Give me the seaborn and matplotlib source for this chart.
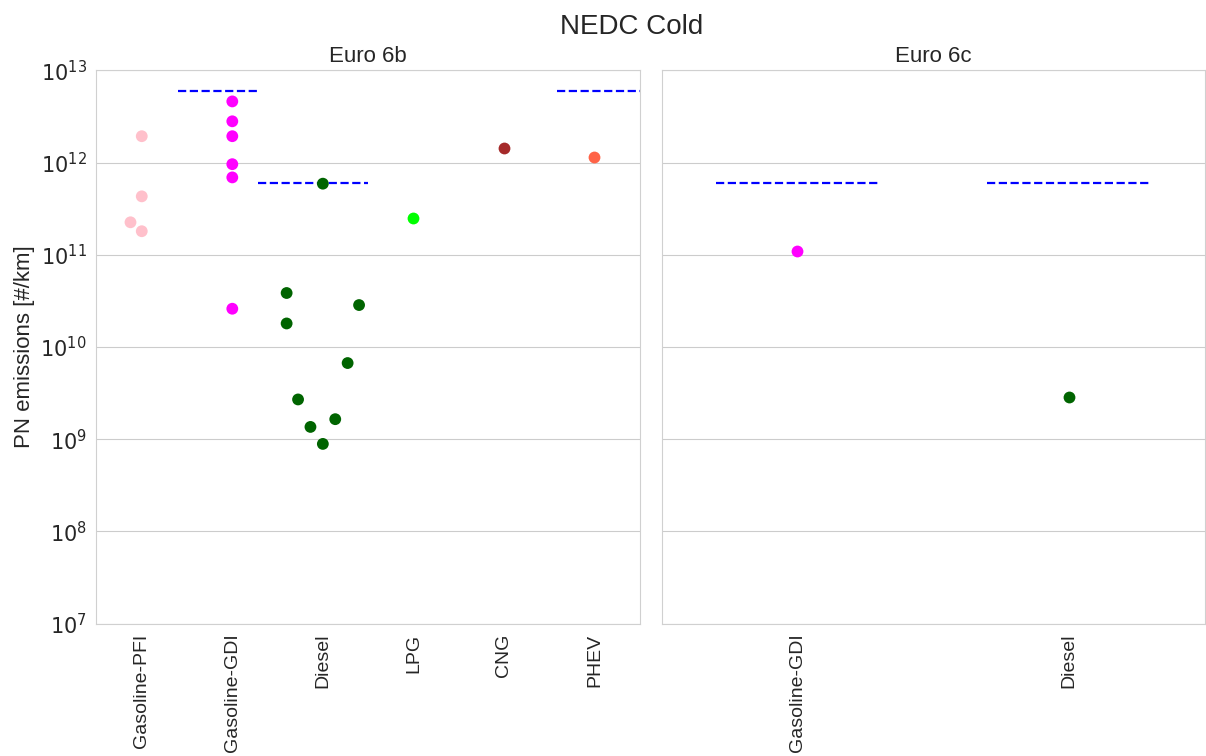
import numpy as np
import pandas as pd
import matplotlib
matplotlib.use("Agg")
import matplotlib.pyplot as plt
import seaborn as sns

# ---------------------------
# Data
# ---------------------------
fuels_6b = ["Gasoline-PFI", "Gasoline-GDI", "Diesel", "LPG", "CNG", "PHEV"]
fuels_6c = ["Gasoline-GDI", "Diesel"]

pfi_6b = [1.93e12, 4.3e11, 2.25e11, 1.8e11]
gdi_6b = [4.6e12, 2.8e12, 1.93e12, 9.6e11, 6.9e11, 2.6e10]
diesel_6b = [5.9e11, 3.85e10, 2.85e10, 1.8e10, 6.7e9, 2.7e9, 1.65e9, 1.36e9, 8.9e8]
lpg_6b = [2.5e11]
cng_6b = [1.43e12]
phev_6b = [1.14e12]

gdi_6c = [1.1e11]
diesel_6c = [2.87e9]

# PN limits [#/km]
limit_gasoline = 6e12
limit_diesel = 6e11

fuel_colors = {
    "Gasoline-PFI": "pink",
    "Gasoline-GDI": "magenta",
    "Diesel": "darkgreen",
    "LPG": "lime",
    "CNG": "brown",
    "PHEV": "tomato",
}

# ---------------------------
# Build data frames
# ---------------------------
df_6b = pd.DataFrame({
    "fuel": (["Gasoline-PFI"] * len(pfi_6b) + ["Gasoline-GDI"] * len(gdi_6b)
             + ["Diesel"] * len(diesel_6b) + ["LPG"] * len(lpg_6b)
             + ["CNG"] * len(cng_6b) + ["PHEV"] * len(phev_6b)),
    "pn": pfi_6b + gdi_6b + diesel_6b + lpg_6b + cng_6b + phev_6b,
})
df_6c = pd.DataFrame({
    "fuel": ["Gasoline-GDI"] * len(gdi_6c) + ["Diesel"] * len(diesel_6c),
    "pn": gdi_6c + diesel_6c,
})

# ---------------------------
# Plot
# ---------------------------
sns.set_style("whitegrid")
plt.rcParams["font.family"] = ["Liberation Sans", "DejaVu Sans"]

fig, axes = plt.subplots(1, 2, figsize=(12.06, 7.56), dpi=100, sharey=True)
fig.subplots_adjust(left=0.080, right=0.999, top=0.907, bottom=0.175, wspace=0.04)

panels = [(axes[0], df_6b, fuels_6b, "Euro 6b"),
          (axes[1], df_6c, fuels_6c, "Euro 6c")]

# swarm is laid out on a linear y axis first, then the axis goes log
for ax, df, order, title in panels:
    sns.swarmplot(data=df, x="fuel", y="pn", hue="fuel", order=order,
                  palette=fuel_colors, size=8.5, legend=False, ax=ax)

import warnings
with warnings.catch_warnings():
    warnings.simplefilter("ignore")
    fig.canvas.draw()
for ax, df, order, title in panels:
    for coll in ax.collections:
        if "draw" in vars(coll):
            del coll.draw

for ax, df, order, title in panels:
    ax.set_yscale("log")
    ax.set_title(title, fontsize=16)
    ax.set_xlabel("")
    ax.tick_params(axis="x", labelrotation=90, labelsize=14)
    ax.tick_params(axis="y", labelsize=15, labelfontfamily="DejaVu Sans")
    for s in ax.spines.values():
        s.set_visible(True)
        s.set_color("#d0d0d0")

axes[0].set_ylim(1e7, 1e13)
axes[0].set_ylabel("PN emissions [#/km]", fontsize=16)
axes[1].set_ylabel("")

# limit lines
line_kw = dict(color="blue", linestyle="--", linewidth=1.6)
axes[0].axhline(limit_gasoline, xmin=0.15, xmax=0.297, **line_kw)
axes[0].axhline(limit_diesel, xmin=0.297, xmax=0.5, **line_kw)
axes[0].axhline(limit_gasoline, xmin=0.847, xmax=1.0, **line_kw)
axes[1].axhline(limit_diesel, xmin=0.1, xmax=0.4, **line_kw)
axes[1].axhline(limit_diesel, xmin=0.6, xmax=0.9, **line_kw)

fig.suptitle("NEDC Cold", fontsize=20, x=0.524, y=0.982)

plt.savefig("out.png", dpi=100)
plt.close()
